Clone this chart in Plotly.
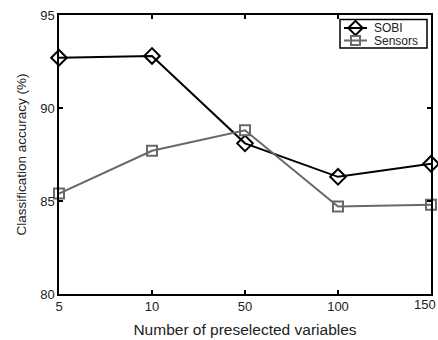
import plotly.graph_objects as go

categories = ["5", "10", "50", "100", "150"]
sobi = [92.7, 92.8, 88.1, 86.3, 87.0]
sensors = [85.4, 87.7, 88.8, 84.7, 84.8]
series_names = ["SOBI", "Sensors"]

FONT = "Liberation Sans, Arial, Helvetica, sans-serif"
SOBI_COLOR = "black"
SENS_COLOR = "#686868"

fig = go.Figure()
fig.add_trace(go.Scatter(
    x=categories, y=sobi, name=series_names[0], mode="lines+markers",
    line=dict(color=SOBI_COLOR, width=2),
    marker=dict(symbol="diamond-open", size=12, color=SOBI_COLOR, line=dict(width=2)),
    cliponaxis=False, showlegend=False,
))
fig.add_trace(go.Scatter(
    x=categories, y=sensors, name=series_names[1], mode="lines+markers",
    line=dict(color=SENS_COLOR, width=2),
    marker=dict(symbol="square-open", size=10, color=SENS_COLOR, line=dict(width=2)),
    cliponaxis=False, showlegend=False,
))

# Compact boxed legend drawn on a pixel-scaled overlay axis (plot area 59..431 x 15..294)
fig.add_trace(go.Scatter(
    x=[344, 367], y=[28, 28], mode="lines", line=dict(color=SOBI_COLOR, width=2),
    xaxis="x2", yaxis="y2", showlegend=False, hoverinfo="skip",
))
fig.add_trace(go.Scatter(
    x=[355.5], y=[28], mode="markers",
    marker=dict(symbol="diamond-open", size=11, color=SOBI_COLOR, line=dict(width=2)),
    xaxis="x2", yaxis="y2", showlegend=False, hoverinfo="skip",
))
fig.add_trace(go.Scatter(
    x=[344, 367], y=[40.5, 40.5], mode="lines", line=dict(color=SENS_COLOR, width=2),
    xaxis="x2", yaxis="y2", showlegend=False, hoverinfo="skip",
))
fig.add_trace(go.Scatter(
    x=[355.5], y=[40.5], mode="markers",
    marker=dict(symbol="square-open", size=9, color=SENS_COLOR, line=dict(width=2)),
    xaxis="x2", yaxis="y2", showlegend=False, hoverinfo="skip",
))
fig.add_shape(type="rect", xref="x2", yref="y2", x0=340, x1=427, y0=19.5, y1=48,
              line=dict(color="black", width=1.5), fillcolor="white", layer="below")
for name, py in zip(series_names, [28, 40.5]):
    fig.add_annotation(xref="x2", yref="y2", x=372, y=py, text=name, showarrow=False,
                       xanchor="left", yanchor="middle",
                       font=dict(family=FONT, size=12, color="#222"))

axis_common = dict(
    showline=True, linecolor="black", linewidth=1.5, mirror="ticks",
    ticks="inside", ticklen=4, tickcolor="black", tickwidth=1.5,
    showgrid=False, zeroline=False, automargin=False,
    tickfont=dict(family=FONT, size=13, color="#222"),
)

# The last category label sits against the right page edge, so it is
# right-aligned there instead of centred under its tick.
tick_text = categories[:-1] + [""]
fig.add_annotation(xref="paper", yref="paper", x=1.0, xshift=7, y=0, yshift=-1,
                   text=categories[-1], showarrow=False,
                   xanchor="right", yanchor="top",
                   font=dict(family=FONT, size=13, color="#222"))

fig.update_layout(
    width=438, height=340,
    margin=dict(l=59, r=7, t=15, b=46, autoexpand=False),
    paper_bgcolor="white", plot_bgcolor="white",
    font=dict(family=FONT, size=13, color="#222"),
    showlegend=False,
    xaxis=dict(
        type="category", range=[0, 4],
        tickmode="array", tickvals=categories, ticktext=tick_text,
        title=dict(text="Number of preselected variables", standoff=11,
                   font=dict(size=15.5)),
        **axis_common,
    ),
    yaxis=dict(
        range=[80, 95], tickvals=[80, 85, 90, 95],
        title=dict(text="Classification accuracy (%)", standoff=10,
                   font=dict(size=13.5)),
        **axis_common,
    ),
    xaxis2=dict(overlaying="x", range=[59, 431], visible=False, fixedrange=True),
    yaxis2=dict(overlaying="y", range=[294, 15], visible=False, fixedrange=True),
)

fig.write_html("out.html")
